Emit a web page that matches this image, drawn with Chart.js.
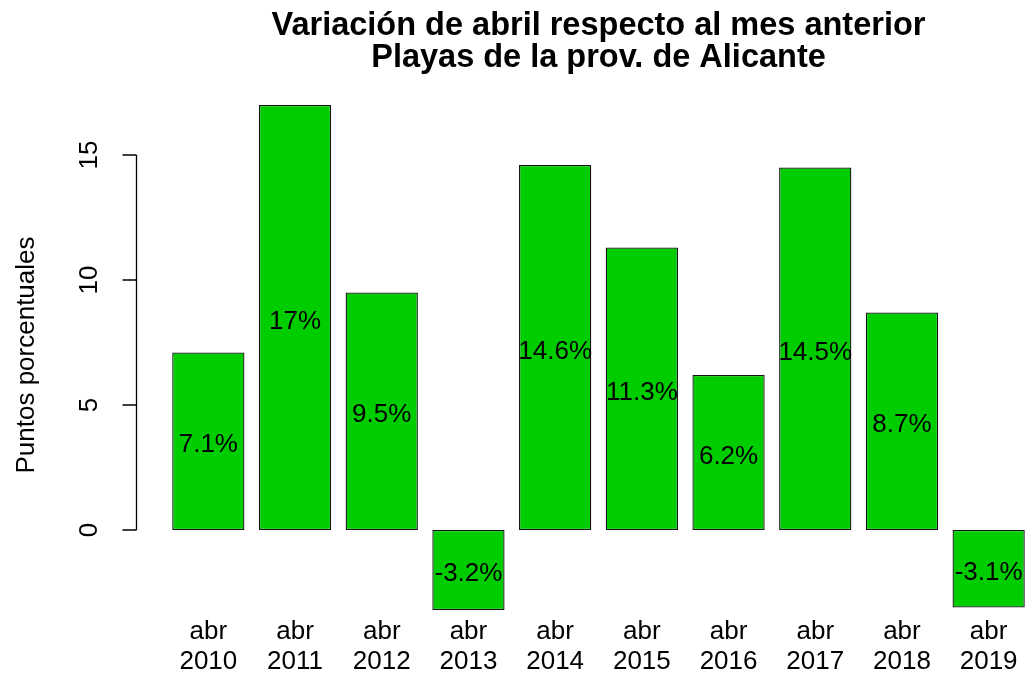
<!DOCTYPE html>
<html>
<head>
<meta charset="utf-8">
<script src="https://cdn.jsdelivr.net/npm/chart.js@4"></script>
<style>
  html, body { margin: 0; padding: 0; background: #fff; overflow: hidden; }
  canvas { display: block; }
</style>
</head>
<body>
<canvas id="myChart" width="1040" height="677"></canvas>
<script>
const months = ['abr 2010', 'abr 2011', 'abr 2012', 'abr 2013', 'abr 2014', 'abr 2015', 'abr 2016', 'abr 2017', 'abr 2018', 'abr 2019'];
const variation = [7.1, 17, 9.5, -3.2, 14.6, 11.3, 6.2, 14.5, 8.7, -3.1];
const yTicks = [0, 5, 10, 15];
const titleLines = ['Variación de abril respecto al mes anterior', 'Playas de la prov. de Alicante'];
const yTitle = 'Puntos porcentuales';

const FONT = '"Liberation Sans", Arial, sans-serif';

// R-style annotations: title, left axis, x labels, values inside bars
const rDecorations = {
    id: 'rDecorations',
    afterDraw(chart) {
        const c = chart.ctx;
        const y = chart.scales.y;
        const area = chart.chartArea;
        const cx = (area.left + area.right) / 2;
        c.save();
        c.fillStyle = '#000';
        c.strokeStyle = '#000';
        c.textAlign = 'center';
        c.textBaseline = 'middle';

        c.font = 'bold 32.5px ' + FONT;
        c.fillText(titleLines[0], cx, 26);
        c.fillText(titleLines[1], cx, 58);

        // left axis
        const axX = 136.5;
        c.lineWidth = 1.3;
        c.beginPath();
        c.moveTo(axX, y.getPixelForValue(yTicks[0]));
        c.lineTo(axX, y.getPixelForValue(yTicks[yTicks.length - 1]));
        yTicks.forEach(t => {
            const py = y.getPixelForValue(t);
            c.moveTo(axX, py);
            c.lineTo(axX - 14, py);
        });
        c.stroke();

        c.font = '26px ' + FONT;
        yTicks.forEach(t => {
            const py = y.getPixelForValue(t);
            c.save();
            c.translate(90, py);
            c.rotate(-Math.PI / 2);
            c.fillText(String(t), 0, 0);
            c.restore();
        });
        c.save();
        c.translate(27, (area.top + area.bottom) / 2);
        c.rotate(-Math.PI / 2);
        c.fillText(yTitle, 0, 0);
        c.restore();

        const meta = chart.getDatasetMeta(0);
        meta.data.forEach((bar, i) => {
            const parts = months[i].split(' ');
            c.fillText(parts[0], bar.x, 632);
            c.fillText(parts[1], bar.x, 662);
            const v = variation[i];
            c.fillText(v + '%', bar.x, y.getPixelForValue(v / 2) + 4);
        });
        c.restore();
    }
};

const ctx = document.getElementById('myChart').getContext('2d');

const myChart = new Chart(ctx, {
    type: 'bar',
    data: {
        labels: months,
        datasets: [{
            data: variation,
            backgroundColor: '#00CD00',
            borderColor: '#111',
            borderWidth: 1.3,
            borderSkipped: false,
            barPercentage: 1 / 1.2,
            categoryPercentage: 1
        }]
    },
    options: {
        responsive: false,
        animation: false,
        layout: { padding: { left: 165, right: 8, top: 92.5, bottom: 59.5 } },
        scales: {
            x: { display: false },
            y: { display: false, min: -3.5, max: 17.5 }
        },
        plugins: {
            legend: { display: false },
            tooltip: { enabled: false }
        }
    },
    plugins: [rDecorations]
});
</script>
</body>
</html>
